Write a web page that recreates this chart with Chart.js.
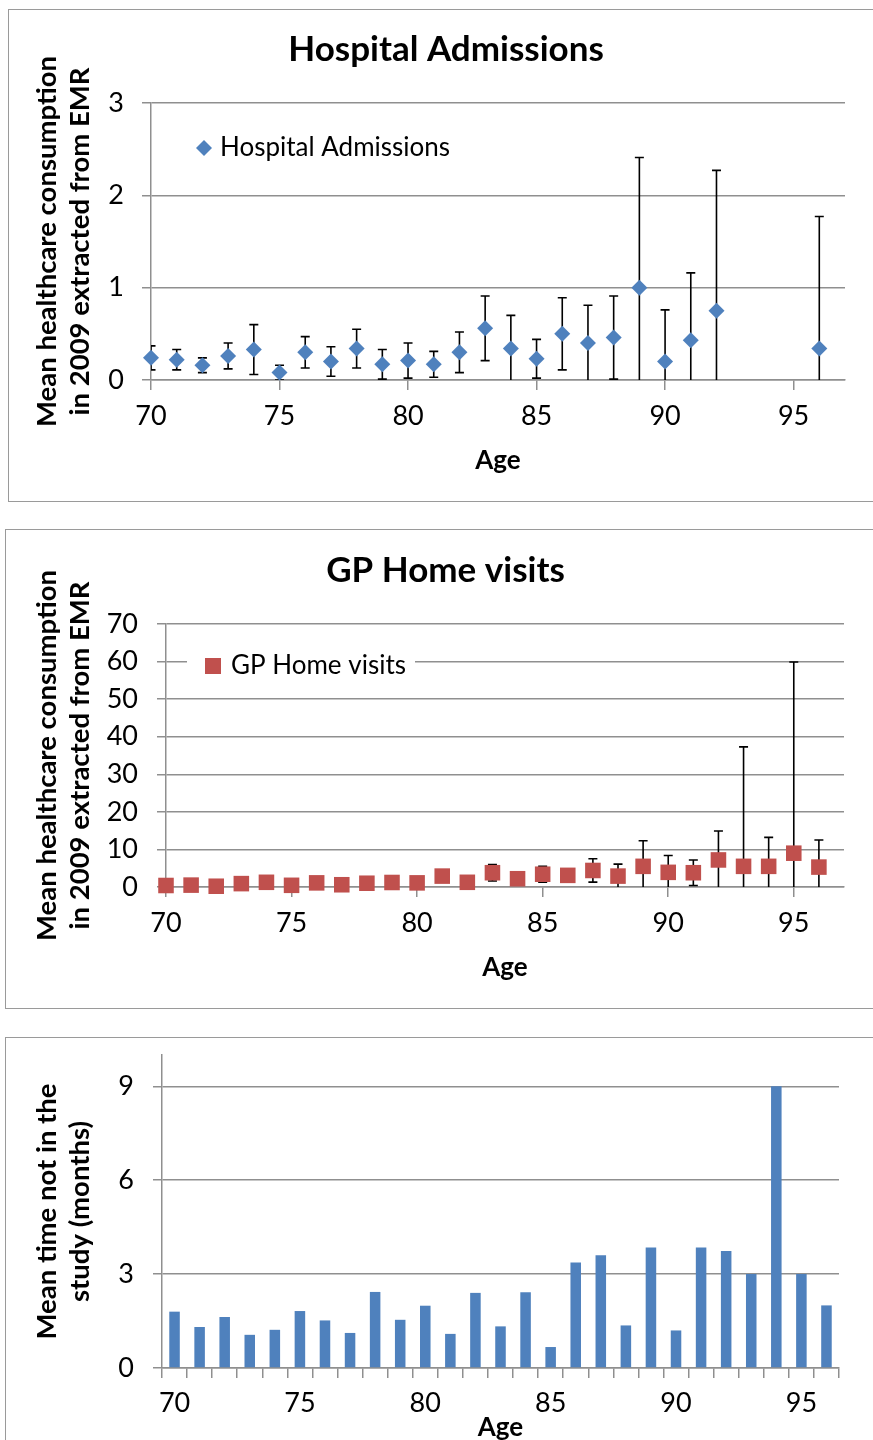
<!DOCTYPE html>
<html>
<head>
<meta charset="utf-8">
<script src="https://cdn.jsdelivr.net/npm/chart.js@4.4.1/dist/chart.umd.min.js"></script>
<style>
    body { margin: 0; width: 873px; height: 1440px; overflow: hidden; background: #fff; position: relative; }
    .frame { position: absolute; border: 1px solid #9a9a9a; box-sizing: border-box; }
    canvas { position: absolute; }
</style>
</head>
<body>
<div class="frame" style="left:8px;top:9px;width:880px;height:493px"></div>
<canvas id="hospChart" width="874" height="490" style="left:9px;top:10px"></canvas>

<div class="frame" style="left:5px;top:529px;width:880px;height:480px"></div>
<canvas id="gpChart" width="879" height="477" style="left:6px;top:530px"></canvas>

<div class="frame" style="left:5px;top:1037px;width:880px;height:500px"></div>
<canvas id="studyChart" width="876" height="420" style="left:6px;top:1038px"></canvas>

<script>
// --- DATA ---
// Hospital admissions (no data for 93-95)
const hospAges   = [70, 71, 72, 73, 74, 75, 76, 77, 78, 79, 80, 81, 82, 83, 84, 85, 86, 87, 88, 89, 90, 91, 92, 96];
const hospMeans  = [0.24, 0.22, 0.16, 0.26, 0.33, 0.08, 0.30, 0.20, 0.34, 0.17, 0.21, 0.17, 0.30, 0.56, 0.34, 0.23, 0.50, 0.40, 0.46, 1.00, 0.20, 0.43, 0.75, 0.34];
const hospErrors = [0.13, 0.11, 0.08, 0.14, 0.27, 0.08, 0.17, 0.16, 0.21, 0.16, 0.19, 0.14, 0.22, 0.35, 0.36, 0.21, 0.39, 0.41, 0.45, 1.41, 0.56, 0.73, 1.52, 1.43];

// GP home visits
const gpAges   = [70, 71, 72, 73, 74, 75, 76, 77, 78, 79, 80, 81, 82, 83, 84, 85, 86, 87, 88, 89, 90, 91, 92, 93, 94, 95, 96];
const gpMeans  = [0.4, 0.5, 0.2, 0.9, 1.25, 0.45, 1.1, 0.6, 1.0, 1.2, 1.1, 2.9, 1.25, 3.8, 2.2, 3.4, 3.1, 4.4, 2.9, 5.5, 3.9, 3.8, 7.2, 5.5, 5.5, 9.0, 5.3];
const gpErrors = [0, 0, 0, 0, 0, 0, 0, 0, 0, 0, 0, 0, 0, 2.2, 0, 2.1, 0, 3.1, 3.2, 6.8, 4.5, 3.4, 7.7, 31.8, 7.7, 50.9, 7.2];

// Mean time not in the study (months)
const studyAges = ['70', '71', '72', '73', '74', '75', '76', '77', '78', '79', '80', '81', '82', '83',
                   '84', '85', '86', '87', '88', '89', '90', '91', '92', '93', '94', '95', '96'];
const monthsOut = [1.80, 1.31, 1.63, 1.06, 1.22, 1.82, 1.52, 1.12, 2.43, 1.54, 1.99, 1.09, 2.40, 1.33,
                   2.42, 0.67, 3.37, 3.60, 1.36, 3.85, 1.20, 3.85, 3.74, 3.00, 9.00, 3.00, 2.00];

const ageTicks = [70, 75, 80, 85, 90, 95];

const GRID = '#8f8f8f';
const BLUE = '#4F81BD';
const RED = '#C0504D';

// error bars drawn behind the markers, through the chart scales
const errorBarPlugin = {
    id: 'errorBars',
    beforeDatasetsDraw(chart, args, opts) {
        const { ctx, chartArea, scales } = chart;
        const pts = chart.data.datasets[0].data;
        ctx.save();
        ctx.beginPath();
        ctx.rect(chartArea.left, chartArea.top - 2, chartArea.right - chartArea.left, chartArea.bottom - chartArea.top + 2);
        ctx.clip();
        ctx.strokeStyle = '#000';
        ctx.lineWidth = 1.6;
        opts.errors.forEach((e, i) => {
            if (!e) return;
            const px = scales.x.getPixelForValue(pts[i].x);
            const top = scales.y.getPixelForValue(pts[i].y + e);
            const bot = scales.y.getPixelForValue(pts[i].y - e);
            ctx.beginPath();
            ctx.moveTo(px, top); ctx.lineTo(px, bot);
            ctx.moveTo(px - 4.5, top); ctx.lineTo(px + 4.5, top);
            ctx.moveTo(px - 4.5, bot); ctx.lineTo(px + 4.5, bot);
            ctx.stroke();
        });
        ctx.restore();
    }
};

// legend placed inside the plot area, like the Excel original
const insideLegend = {
    id: 'insideLegend',
    afterDraw(chart, args, opts) {
        const { ctx, chartArea } = chart;
        const ds = chart.data.datasets[0];
        const cy = chartArea.top + opts.dy;
        ctx.save();
        if (opts.box) {
            ctx.fillStyle = '#fff';
            ctx.fillRect(chartArea.left + opts.box[0], cy - 16, opts.box[1] - opts.box[0], 32);
        }
        const mx = chartArea.left + opts.markerX;
        ctx.fillStyle = ds.backgroundColor;
        ctx.beginPath();
        if (opts.marker === 'diamond') {
            ctx.moveTo(mx, cy - 8); ctx.lineTo(mx + 8, cy); ctx.lineTo(mx, cy + 8); ctx.lineTo(mx - 8, cy);
            ctx.closePath();
        } else {
            ctx.rect(mx - 8, cy - 8, 16, 16);
        }
        ctx.fill();
        ctx.fillStyle = '#000';
        ctx.font = '26px Lato';
        ctx.textAlign = 'left';
        ctx.textBaseline = 'middle';
        ctx.fillText(ds.label, chartArea.left + opts.textX, cy);
        ctx.restore();
    }
};

function yAxis(max, step, width, tickPad, titleText, titlePad) {
    return {
        min: 0, max: max,
        // fixed width; no extra top/bottom padding for the labels
        afterFit: s => { s.width = width; s.paddingTop = 0; s.paddingBottom = 0; },
        grid: { color: GRID, lineWidth: 1.5, tickLength: 9 },
        border: { display: true, color: GRID, width: 1.5 },
        ticks: { stepSize: step, includeBounds: false, padding: tickPad, color: '#000', font: { size: 27 } },
        title: {
            display: true, text: titleText, color: '#000',
            font: { size: 27.5, weight: 'bold', lineHeight: 1.2 },
            padding: { top: titlePad, bottom: 0 }
        }
    };
}

// empty right-hand box, keeps the plot area off the right edge while the title stays centred on the frame
function rightGap(width) {
    return {
        position: 'right',
        afterFit: s => { s.width = width; },
        grid: { display: false },
        border: { display: false },
        ticks: { display: false }
    };
}

function xLinearAxis(height, titlePad) {
    return {
        type: 'linear', position: 'bottom', min: 70, max: 97,
        afterFit: s => { s.height = height; },
        grid: { drawOnChartArea: false, color: GRID, lineWidth: 1.5, tickLength: 10 },
        border: { display: true, color: GRID, width: 1.5 },
        ticks: { stepSize: 5, includeBounds: false, padding: 10, maxRotation: 0, color: '#000', font: { size: 27 } },
        title: {
            display: true, text: 'Age', color: '#000',
            font: { size: 26, weight: 'bold', lineHeight: 1.2 },
            padding: { top: 0, bottom: titlePad }
        }
    };
}

function titleOpts(text, top, bottom) {
    return {
        display: true, text: text, color: '#000',
        font: { size: 35, weight: 'bold', lineHeight: 1.2 },
        padding: { top: top, bottom: bottom }
    };
}

function build() {
    Chart.defaults.font.family = 'Lato, "Open Sans", sans-serif';
    Chart.defaults.color = '#000';
    Chart.defaults.animation = false;

    // GRAPH 1: hospital admissions
    new Chart(document.getElementById('hospChart'), {
        type: 'scatter',
        data: {
            datasets: [{
                label: 'Hospital Admissions',
                data: hospAges.map((a, i) => ({ x: a, y: hospMeans[i] })),
                pointStyle: 'rectRot',
                pointRadius: 8,
                borderWidth: 0,
                backgroundColor: BLUE,
                borderColor: BLUE,
                clip: false
            }]
        },
        options: {
            responsive: false,
            devicePixelRatio: 1,
            events: [],
            layout: { padding: 0 },
            plugins: {
                legend: { display: false },
                tooltip: { enabled: false },
                title: titleOpts('Hospital Admissions', 19, 32),
                errorBars: { errors: hospErrors },
                insideLegend: { dy: 45, markerX: 53, textX: 69, marker: 'diamond' }
            },
            scales: {
                x: xLinearAxis(120, 24),
                y: yAxis(3, 1, 142, 18, ['Mean healthcare consumption', 'in 2009 extracted from EMR'], 21.5),
                gap: rightGap(38)
            }
        },
        plugins: [errorBarPlugin, insideLegend]
    });

    // GRAPH 2: GP home visits
    new Chart(document.getElementById('gpChart'), {
        type: 'scatter',
        data: {
            datasets: [{
                label: 'GP Home visits',
                data: gpAges.map((a, i) => ({ x: a, y: gpMeans[i] })),
                pointStyle: 'rect',
                pointRadius: 11,
                borderWidth: 0,
                backgroundColor: RED,
                borderColor: RED,
                clip: false
            }]
        },
        options: {
            responsive: false,
            devicePixelRatio: 1,
            events: [],
            layout: { padding: 0 },
            plugins: {
                legend: { display: false },
                tooltip: { enabled: false },
                title: titleOpts('GP Home visits', 20, 32),
                errorBars: { errors: gpErrors },
                insideLegend: { dy: 42, markerX: 47, textX: 65, marker: 'square', box: [21, 249] }
            },
            scales: {
                x: xLinearAxis(120, 24),
                y: yAxis(70, 10, 160, 19, ['Mean healthcare consumption', 'in 2009 extracted from EMR'], 24.5),
                gap: rightGap(41)
            }
        },
        plugins: [errorBarPlugin, insideLegend]
    });

    // GRAPH 3: mean time not in the study
    new Chart(document.getElementById('studyChart'), {
        type: 'bar',
        data: {
            labels: studyAges,
            datasets: [{
                label: 'Mean time not in the study',
                data: monthsOut,
                backgroundColor: BLUE,
                barPercentage: 0.42,
                categoryPercentage: 1.0
            }]
        },
        options: {
            responsive: false,
            devicePixelRatio: 1,
            events: [],
            layout: { padding: { left: 0, right: 43, top: 17, bottom: 0 } },
            plugins: {
                legend: { display: false },
                tooltip: { enabled: false }
            },
            scales: {
                x: {
                    afterFit: s => { s.height = 90; },
                    grid: { offset: true, drawOnChartArea: false, color: GRID, lineWidth: 1.5, tickLength: 10 },
                    border: { display: true, color: GRID, width: 1.5 },
                    ticks: {
                        autoSkip: false, maxRotation: 0, padding: 9, color: '#000', font: { size: 27 },
                        callback: function (value) {
                            const lbl = this.getLabelForValue(value);
                            return ageTicks.includes(Number(lbl)) ? lbl : '';
                        }
                    },
                    title: {
                        display: true, text: 'Age', color: '#000',
                        font: { size: 26, weight: 'bold', lineHeight: 1.2 },
                        padding: { top: 0, bottom: 15 }
                    }
                },
                y: yAxis(10, 3, 156, 19, ['Mean time not in the', 'study (months)'], 24.5)
            }
        }
    });
}

Promise.all([
    document.fonts.load('26px Lato'),
    document.fonts.load('bold 26px Lato')
]).then(build, build);
</script>
</body>
</html>
